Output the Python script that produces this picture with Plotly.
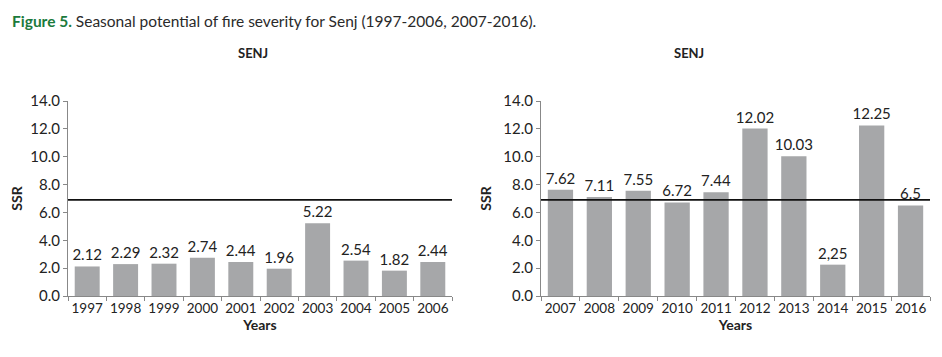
import plotly.graph_objects as go

years_a = ["1997", "1998", "1999", "2000", "2001", "2002", "2003", "2004", "2005", "2006"]
ssr_a = [2.12, 2.29, 2.32, 2.74, 2.44, 1.96, 5.22, 2.54, 1.82, 2.44]
labels_a = ["2.12", "2.29", "2.32", "2.74", "2.44", "1.96", "5.22", "2.54", "1.82", "2.44"]

years_b = ["2007", "2008", "2009", "2010", "2011", "2012", "2013", "2014", "2015", "2016"]
ssr_b = [7.62, 7.11, 7.55, 6.72, 7.44, 12.02, 10.03, 2.25, 12.25, 6.5]
labels_b = ["7.62", "7.11", "7.55", "6.72", "7.44", "12.02", "10.03", "2,25", "12.25", "6.5"]

threshold = 6.9
yticks = [0, 2, 4, 6, 8, 10, 12, 14]
ytick_text = ["0.0", "2.0", "4.0", "6.0", "8.0", "10.0", "12.0", "14.0"]

OFF = 8  # default page body margin
W, H = 942 - OFF, 357 - OFF
FONT = "Lato"
bar_color = "#a6a7a9"
TXT = "#222222"


def px(x):
    return (x - OFF) / W


def py(y):
    return 1 - (y - OFF) / H


fig = go.Figure()
for xs, ys, ls, xa, ya in [(years_a, ssr_a, labels_a, "x", "y"), (years_b, ssr_b, labels_b, "x2", "y2")]:
    fig.add_trace(go.Bar(x=xs, y=ys, text=ls, textposition="outside", constraintext="none",
                         marker_color=bar_color, marker_line_width=0, xaxis=xa, yaxis=ya, cliponaxis=False,
                         textfont=dict(size=15, color=TXT, family=FONT)))

ydom = [py(296), py(101)]
common_x = dict(type="category", showline=True, linecolor="#888888", linewidth=1,
                ticks="outside", tickson="boundaries", ticklen=4, tickcolor="#888888",
                tickangle=0, automargin=False,
                tickfont=dict(size=13.5, color=TXT, family=FONT),
                title=dict(text="<b>Years</b>", font=dict(size=14, color=TXT, family=FONT), standoff=2),
                showgrid=False, fixedrange=True)
common_y = dict(range=[0, 14], tickvals=yticks, ticktext=ytick_text, showline=True, automargin=False,
                linecolor="#888888", linewidth=1, ticks="outside", ticklen=4, tickcolor="#888888",
                tickfont=dict(size=15, color=TXT, family=FONT), showgrid=False, zeroline=False,
                title=dict(text="<b>SSR</b>", font=dict(size=14, color=TXT, family=FONT), standoff=8))

fig.update_layout(
    width=W, height=H, margin=dict(l=0, r=0, t=0, b=0, autoexpand=False),
    paper_bgcolor="white", plot_bgcolor="white", showlegend=False, bargap=0.35,
    xaxis=dict(domain=[px(68), px(452)], anchor="y", **common_x),
    yaxis=dict(domain=ydom, anchor="x", **common_y),
    xaxis2=dict(domain=[px(541), px(930)], anchor="y2", **common_x),
    yaxis2=dict(domain=ydom, anchor="x2", **common_y),
)

for xr, yr in [("x", "y"), ("x2", "y2")]:
    fig.add_shape(type="line", xref=f"{xr} domain", yref=yr, x0=0, x1=1, y0=threshold, y1=threshold,
                  line=dict(color="#111111", width=1.8))

fig.add_annotation(x=px(10), y=py(21), xref="paper", yref="paper", xanchor="left", yanchor="middle",
                   showarrow=False,
                   text="<span style='color:#1b7a3c'><b>Figure 5.</b></span> Seasonal potential of fire severity for Senj (1997-2006, 2007-2016).",
                   font=dict(size=15.5, color="#2a2a2a", family=FONT))
fig.add_annotation(x=px(236), y=py(53), xref="paper", yref="paper", showarrow=False,
                   yanchor="middle", text="<b>SENJ</b>", font=dict(size=13, color=TXT, family=FONT))
fig.add_annotation(x=px(706), y=py(53), xref="paper", yref="paper", showarrow=False,
                   yanchor="middle", text="<b>SENJ</b>", font=dict(size=13, color=TXT, family=FONT))

fig.write_html("out.html")
